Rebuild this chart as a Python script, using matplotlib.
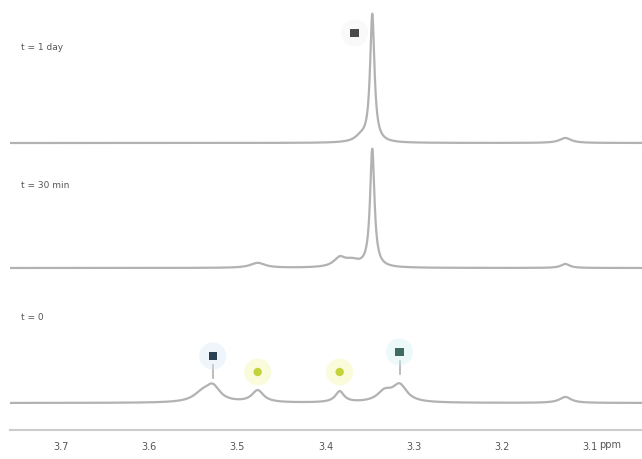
import numpy as np
import matplotlib
matplotlib.use("Agg")
import matplotlib.pyplot as plt

# Chemical-shift axis (ppm, decreasing to the right)
ppm_ticks = [3.7, 3.6, 3.5, 3.4, 3.3, 3.2, 3.1]
tick_labels = ["3.7", "3.6", "3.5", "3.4", "3.3", "3.2", "3.1"]

# Stacked spectra: label, label height, vertical offset
labels = ["t = 1 day", "t = 30 min", "t = 0"]
label_y = [383, 245, 112]
offsets = [287, 162, 27]

# Peak tables: positions (ppm), heights, widths (ppm)
top_pos = [3.347, 3.128, 3.36]
top_hgt = [128, 5, 5]
top_wid = [0.003, 0.008, 0.008]

mid_pos = [3.347, 3.477, 3.384, 3.37, 3.128]
mid_hgt = [118, 5, 9, 6, 4]
mid_wid = [0.003, 0.01, 0.008, 0.01, 0.006]

bot_pos = [3.528, 3.54, 3.477, 3.384, 3.316, 3.333, 3.128]
bot_hgt = [15, 8, 12, 11, 17, 10, 6]
bot_wid = [0.01, 0.012, 0.008, 0.006, 0.01, 0.01, 0.008]

peaks = [(top_pos, top_hgt, top_wid),
         (mid_pos, mid_hgt, mid_wid),
         (bot_pos, bot_hgt, bot_wid)]

# Assignment markers: x (ppm), y, colour, halo colour, shape
mark_x = [3.367, 3.528, 3.477, 3.384, 3.316]
mark_y = [397, 74, 58, 58, 78]
mark_c = ["#4a4a4a", "#2c3e52", "#c4d23c", "#c4d23c", "#3f6b5f"]
mark_h = ["#f0f0f0", "#d6eaf7", "#f2f7a6", "#f2f7a6", "#d3f1ee"]
mark_s = ["s", "s", "o", "o", "s"]

fig = plt.figure(figsize=(6.42, 4.59), dpi=100)
ax = fig.add_axes([10 / 642, 29 / 459, 632 / 642, 430 / 459])

x = np.linspace(3.76, 3.04, 5000)
for (pos, hgt, wid), off in zip(peaks, offsets):
    y = np.zeros_like(x)
    for p, h, w in zip(pos, hgt, wid):
        y += h / (1 + ((x - p) / w) ** 2)
    ax.plot(x, y + off, color="#b2b2b2", lw=1.6, solid_joinstyle="round")

for lab, ly in zip(labels, label_y):
    ax.text(3.745, ly, lab, fontsize=6.5, color="#555555", ha="left", va="center")

# stems from markers down to their peaks
for mx, my in zip(mark_x[1::3], mark_y[1::3]):
    ax.plot([mx, mx], [my - 9, my - 22], color="#b0b0b0", lw=1.2)

for mx, my, c, h, s in zip(mark_x, mark_y, mark_c, mark_h, mark_s):
    ax.scatter([mx], [my], s=380, color=h, alpha=0.4, marker="o", edgecolors="none", zorder=3)
    ax.scatter([mx], [my], s=36, color=c, marker=s, edgecolors="none", zorder=4)

ax.set_xlim(3.758, 3.041)
ax.set_ylim(0, 430)
ax.set_xticks(ppm_ticks)
ax.set_xticklabels(tick_labels)
ax.tick_params(axis="x", length=0, pad=9, labelsize=7, colors="#555555")
ax.set_yticks([])
for side in ["top", "left", "right"]:
    ax.spines[side].set_visible(False)
ax.spines["bottom"].set_color("#cccccc")
ax.spines["bottom"].set_linewidth(1.5)
ax.text(3.09, -15, "ppm", fontsize=7, color="#555555", ha="left", va="center")

fig.savefig("out.png", dpi=100, facecolor="white")
